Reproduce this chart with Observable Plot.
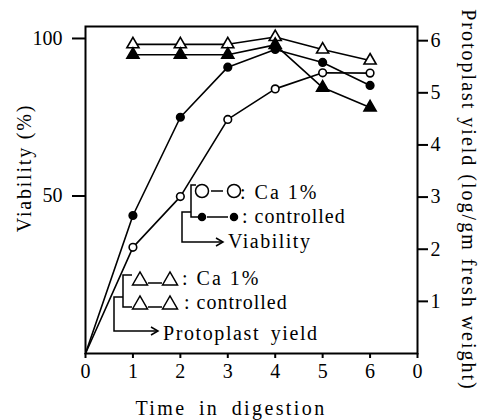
<!DOCTYPE html>
<html><head><meta charset="utf-8">
<script src="https://cdn.jsdelivr.net/npm/d3@7"></script>
<script src="https://cdn.jsdelivr.net/npm/@observablehq/plot@0.6"></script>
<style>
body{margin:0;background:#fff}
</style></head><body><div id="chart"></div>
<script>
// ---- data ----
const times = [0, 1, 2, 3, 4, 5, 6];
// Viability (%), left axis
const viabCa   = [0, 33.7, 49.8, 74.3, 84.0, 89.1, 89.0];   // open circles
const viabCtrl = [0, 43.8, 75.0, 90.9, 96.5, 92.4, 85.1];   // filled circles
// Protoplast yield (log/gm fresh weight), right axis
const yieldCa   = [null, 5.93, 5.93, 5.93, 6.07, 5.83, 5.62]; // open triangles
const yieldCtrl = [null, 5.73, 5.73, 5.73, 5.92, 5.10, 4.72]; // filled triangles
const xTicks = [0, 1, 2, 3, 4, 5, 6, 7];
const xTickLabels = ["0", "1", "2", "3", "4", "5", "6", "0"];
const leftTicks = [50, 100];
const rightTicks = [1, 2, 3, 4, 5, 6];

const YK = 16.55; // yield unit -> % scale units (shared vertical scale)
const FONT = "'Liberation Serif', 'DejaVu Serif', 'Times New Roman', serif";

const rows = [];
const addSeries = (name, vals, k, symbol, fill) => times.forEach((t, i) => {
  if (vals[i] != null) rows.push({series: name, t, v: vals[i] * k, symbol, fill});
});
addSeries("viabCa", viabCa, 1, "circle", "white");
addSeries("viabCtrl", viabCtrl, 1, "circle", "black");
addSeries("yieldCa", yieldCa, YK, "triangle", "white");
addSeries("yieldCtrl", yieldCtrl, YK, "triangle", "black");

const svg = Plot.plot({
  width: 486, height: 420,
  marginLeft: 85, marginRight: 69, marginTop: 26, marginBottom: 67,
  x: {domain: [0, 7]},
  y: {domain: [0, 103.8]},
  style: {fontSize: "20px", background: "white", color: "black"},
  marks: [
    Plot.frame({stroke: "black", strokeWidth: 2}),
    Plot.axisY(leftTicks, {anchor: "left", tickSize: 13, tickPadding: 10, strokeWidth: 2, label: null}),
    Plot.axisY(rightTicks.map(d => d * YK), {anchor: "right", tickSize: 10, tickPadding: 3, strokeWidth: 2,
      tickFormat: d => String(Math.round(d / YK)), label: null}),
    Plot.axisX(xTicks, {anchor: "bottom", tickSize: 5, tickPadding: 5, strokeWidth: 2,
      tickFormat: (d) => xTickLabels[xTicks.indexOf(d)], label: null}),
    Plot.line(rows, {x: "t", y: "v", z: "series", stroke: "black", strokeWidth: 1.6}),
    Plot.dot(rows.filter(d => d.t > 0 && d.symbol === "circle"), {x: "t", y: "v", r: 3.8, symbol: "circle",
      fill: "fill", stroke: "black", strokeWidth: 1.6}),
    Plot.dot(rows.filter(d => d.t > 0 && d.symbol === "triangle"), {x: "t", y: "v", r: 4.5, symbol: "triangle",
      fill: "fill", stroke: "black", strokeWidth: 1.6})
  ]
});
document.getElementById("chart").appendChild(svg);

// ---- annotations: axis titles and in-plot legend ----
const s = d3.select(svg);
const txt = (x, y, str, opts = {}) => s.append("text")
  .attr("x", x).attr("y", y).attr("dy", "0.35em")
  .attr("text-anchor", opts.anchor || "start")
  .attr("fill", "black").style("font-size", "20px")
  .style("letter-spacing", opts.ls || "1.3px")
  .style("word-spacing", opts.ws || "0px")
  .text(str);

txt(231, 408, "Time in digestion", {anchor: "middle", ls: "2.4px", ws: "5px"});
s.append("text").attr("transform", "translate(24,168) rotate(-90)").attr("text-anchor", "middle")
  .attr("dy", "0.35em").attr("fill", "black").style("font-size", "20px").style("letter-spacing", "1.8px")
  .text("Viability (%)");
s.append("text").attr("transform", "translate(469,200) rotate(90)").attr("text-anchor", "middle")
  .attr("dy", "0.35em").attr("fill", "black").style("font-size", "20px").style("letter-spacing", "2px")
  .text("Protoplast yield (log/gm fresh weight)");

const lg = s.append("g").attr("fill", "none").attr("stroke", "black").attr("stroke-width", 1.5);
const arrow = (x, y) => lg.append("path").attr("d", `M${x - 7},${y - 4}L${x},${y}L${x - 7},${y + 4}`);
const tri = (cx, cy, fill) => lg.append("path")
  .attr("d", `M${cx - 7.5},${cy + 6}L${cx},${cy - 7}L${cx + 7.5},${cy + 6}Z`).attr("fill", fill);

// Viability group
lg.append("circle").attr("cx", 202).attr("cy", 191).attr("r", 6.5).attr("fill", "white");
lg.append("path").attr("d", "M211,191H223");
lg.append("circle").attr("cx", 234).attr("cy", 191).attr("r", 6.5).attr("fill", "white");
lg.append("circle").attr("cx", 202).attr("cy", 217).attr("r", 3.5).attr("fill", "black");
lg.append("path").attr("d", "M207,217H228");
lg.append("circle").attr("cx", 234).attr("cy", 217).attr("r", 3.5).attr("fill", "black");
lg.append("path").attr("d", "M196,185H191V217H198");
lg.append("path").attr("d", "M191,212H182V242H222");
arrow(223, 242);
txt(240, 192, ": Ca 1%", {ls: "2px"});
txt(242, 216, ": controlled", {ls: "1px"});
txt(228, 241, "Viability", {ls: "1.5px"});

// Protoplast yield group
tri(140, 279, "white");
lg.append("path").attr("d", "M148,283H162");
tri(170, 279, "white");
tri(140, 303, "white");
lg.append("path").attr("d", "M148,307H162");
tri(170, 303, "white");
lg.append("path").attr("d", "M132,275H123V307H132");
lg.append("path").attr("d", "M123,297H114V331H157");
arrow(158, 331);
txt(182, 278, ": Ca 1%", {ls: "2px"});
txt(184, 302, ": controlled", {ls: "1px"});
txt(163, 333, "Protoplast yield", {ls: "1.6px", ws: "4px"});

// serif face on every text element (inline style wins over Plot's own stylesheet)
s.style("font-family", FONT);
s.selectAll("text").style("font-family", FONT);
s.selectAll("g[aria-label$='tick label']").attr("font-family", null).style("font-family", FONT);
</script></body></html>
